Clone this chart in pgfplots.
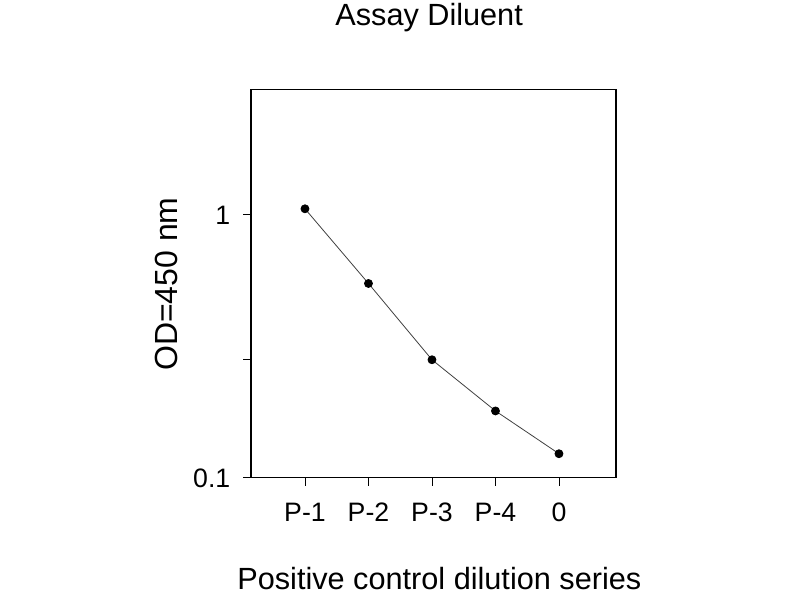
\documentclass[border=0pt]{standalone}
\usepackage{pgfplots}
\pgfplotsset{compat=1.18}
\usepackage{fontspec}
\setmainfont{Liberation Sans}
\begin{document}
\begin{tikzpicture}
\path[use as bounding box] (0,0) rectangle (600pt,450pt);
\begin{axis}[
  at={(188.25pt,91.7pt)}, anchor=south west,
  scale only axis,
  width=273.75pt, height=291.3pt,
  xmin=0.15, xmax=5.898,
  ymode=log, ymin=0.1, ymax=3.0,
  xtick={1,2,3,4,5},
  xticklabels={P-1,P-2,P-3,P-4,0},
  ytick={0.1,0.283,1},
  yticklabels={0.1,,1},
  minor ytick={},
  xtick pos=bottom, ytick pos=left,
  tick align=outside,
  major tick length=6pt,
  tick style={black, line width=0.6pt},
  axis line style={black, line width=0.8pt},
  xticklabel style={font=\fontsize{20}{24}\selectfont, anchor=base, yshift=-27pt},
  yticklabel style={font=\fontsize{20}{24}\selectfont, anchor=base east, yshift=-7pt, xshift=-6pt},
  title={Assay Diluent},
  every axis title/.style={font=\fontsize{23}{28}\selectfont, at={(axis description cs:0.488,1.1655)}, anchor=base},
  xlabel={Positive control dilution series},
  xlabel style={font=\fontsize{23}{28}\selectfont, at={(axis description cs:0.516,-0.289)}, anchor=base},
  ylabel={OD=450 nm},
  ylabel style={font=\fontsize{24}{29}\selectfont, at={(axis description cs:-0.2027,0.4987)}, anchor=base, rotate=0},
]
\addplot[color=black!75, line width=0.6pt, mark=*, mark size=3pt, mark options={fill=black, draw=black}]
  coordinates {(1,1.054) (2,0.548) (3,0.281) (4,0.1795) (5,0.1234)};
\end{axis}
\end{tikzpicture}
\end{document}
